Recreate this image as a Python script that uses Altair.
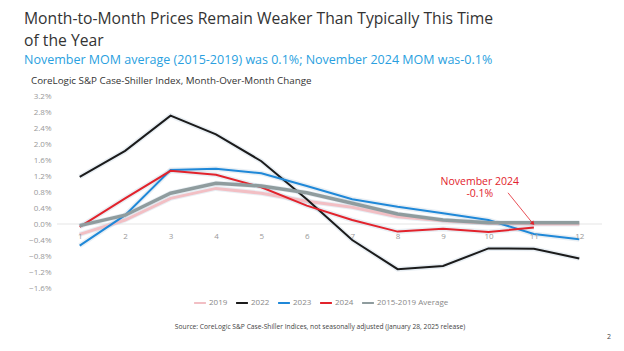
import altair as alt
import pandas as pd

months = list(range(1, 13))
series_names = ["2019", "2022", "2023", "2024", "2015-2019 Average"]
y2019 = [-0.26, 0.10, 0.64, 0.89, 0.77, 0.57, 0.42, 0.18, 0.08, 0.02, 0.0, 0.0]
y2022 = [1.18, 1.83, 2.71, 2.24, 1.57, 0.62, -0.40, -1.13, -1.05, -0.61, -0.62, -0.86]
y2023 = [-0.54, 0.22, 1.35, 1.38, 1.27, 0.95, 0.62, 0.43, 0.27, 0.10, -0.25, -0.38]
y2024 = [-0.07, 0.64, 1.33, 1.23, 0.92, 0.46, 0.10, -0.19, -0.12, -0.20, -0.09, None]
yavg = [-0.04, 0.22, 0.77, 1.02, 0.95, 0.78, 0.52, 0.25, 0.10, 0.03, 0.03, 0.03]
colors = ["#f2bfc4", "#1b1b1b", "#1f88d8", "#e2232c", "#8f9c9e"]
widths = [3, 2, 2, 2, 3.5]
y_ticks = [-1.6, -1.2, -0.8, -0.4, 0.0, 0.4, 0.8, 1.2, 1.6, 2.0, 2.4, 2.8, 3.2]
zero_line = [0.0]

title_lines = ["Month-to-Month Prices Remain Weaker Than Typically This Time", "of the Year"]
subtitle = "November MOM average (2015-2019) was 0.1%; November 2024 MOM was-0.1%"
chart_label = "CoreLogic S&P Case-Shiller Index, Month-Over-Month Change"
source = "Source: CoreLogic S&P Case-Shiller Indices, not seasonally adjusted (January 28, 2025 release)"
annot_lines = ["November 2024", "-0.1%"]
annot_x = [9.81]
annot_y = [1.06, 0.74]
arrow_x = [10.43, 10.98]
arrow_y = [0.78, 0.01]

rows = []
for name, vals, w in zip(series_names, [y2019, y2022, y2023, y2024, yavg], widths):
    for m, v in zip(months, vals):
        if v is not None:
            rows.append({"month": m, "value": v, "series": name, "w": w})
df = pd.DataFrame(rows)

FONT = "Open Sans"
W, H = 545, 192
PL, PT = 57, 96

xscale = alt.Scale(domain=[0.5, 12.5], nice=False)
yscale = alt.Scale(domain=[-1.6, 3.2], nice=False)
xaxis = alt.Axis(values=months, format="d", title=None, orient="bottom", offset=-64,
                 domain=False, ticks=False, grid=False, zindex=1,
                 labelOverlap=False, labelBound=False,
                 labelColor="#999999", labelFontSize=8, labelPadding=8, labelFont=FONT)
yaxis = alt.Axis(values=y_ticks, title=None, domain=False, ticks=False, grid=False,
                 labelOverlap=False, labelBound=False,
                 labelColor="#999999", labelFontSize=8, labelPadding=6, labelFont=FONT,
                 labelExpr="format(datum.value/100, '.1%')")
xs = alt.X("month:Q", scale=xscale, axis=xaxis)
ys = alt.Y("value:Q", scale=yscale, axis=yaxis)
color = alt.Color("series:N", scale=alt.Scale(domain=series_names, range=colors),
                  legend=alt.Legend(orient="none", direction="horizontal", legendX=136, legendY=200,
                                    title=None, symbolType="stroke", symbolStrokeWidth=2, symbolSize=140,
                                    labelFontSize=8, labelColor="#888888", labelFont=FONT,
                                    columnPadding=4, labelOffset=2, symbolOffset=0))

zero = alt.Chart(pd.DataFrame({"value": zero_line})).mark_rule(color="#eeeeee", strokeWidth=1.5).encode(y=ys)

base = alt.Chart(df)
shadow = base.mark_line(opacity=0.12, strokeWidth=5).encode(
    x=xs, y=ys, detail="series:N")
lines = base.mark_line().encode(
    x=xs, y=ys, color=color, strokeWidth=alt.StrokeWidth("w:Q", scale=None, legend=None),
    order=alt.Order("month:Q"))

def txt(t, x, y, size, col, weight="normal", align="left"):
    return alt.Chart(pd.DataFrame({"t": [t]})).mark_text(
        align=align, baseline="middle", fontSize=size, color=col, font=FONT, fontWeight=weight
    ).encode(x=alt.value(x - PL), y=alt.value(y - PT), text="t:N")

texts = [
    txt(title_lines[0], 24, 19, 15.7, "#333333"),
    txt(title_lines[1], 24, 41, 15.7, "#333333"),
    txt(subtitle, 24, 60, 12.5, "#2a9fe0"),
    txt(chart_label, 31, 81, 9.8, "#333333"),
    txt(source, 320, 327, 6.7, "#444444", align="center"),
    txt("2", 609, 337, 7, "#444444", align="center"),
]

ann_df = pd.DataFrame({"month": annot_x * 2, "value": annot_y, "t": annot_lines})
ann = alt.Chart(ann_df).mark_text(fontSize=10.5, color="#e2232c", font=FONT, align="center").encode(
    x=xs, y=ys, text="t:N")
arr_df = pd.DataFrame({"month": [arrow_x[0]], "value": [arrow_y[0]],
                       "month2": [arrow_x[1]], "value2": [arrow_y[1]]})
arrow = alt.Chart(arr_df).mark_rule(color="#e2232c", strokeWidth=0.8).encode(
    x=xs, y=ys, x2="month2:Q", y2="value2:Q")
head_df = pd.DataFrame({"month": [arrow_x[1]], "value": [arrow_y[1]]})
head = alt.Chart(head_df).mark_point(shape="triangle-up", filled=True, size=22, color="#e2232c",
                                     angle=138, opacity=1).encode(x=xs, y=ys)

chart = alt.layer(zero, shadow, lines, ann, arrow, head, *texts).properties(
    width=W, height=H, autosize=alt.AutoSizeParams(type="none"),
    padding={"left": PL, "top": PT, "right": 624 - PL - W, "bottom": 351 - PT - H},
    background="white"
).configure_view(stroke=None)

chart.save("out.html", embed_options={"renderer": "svg", "actions": False})
